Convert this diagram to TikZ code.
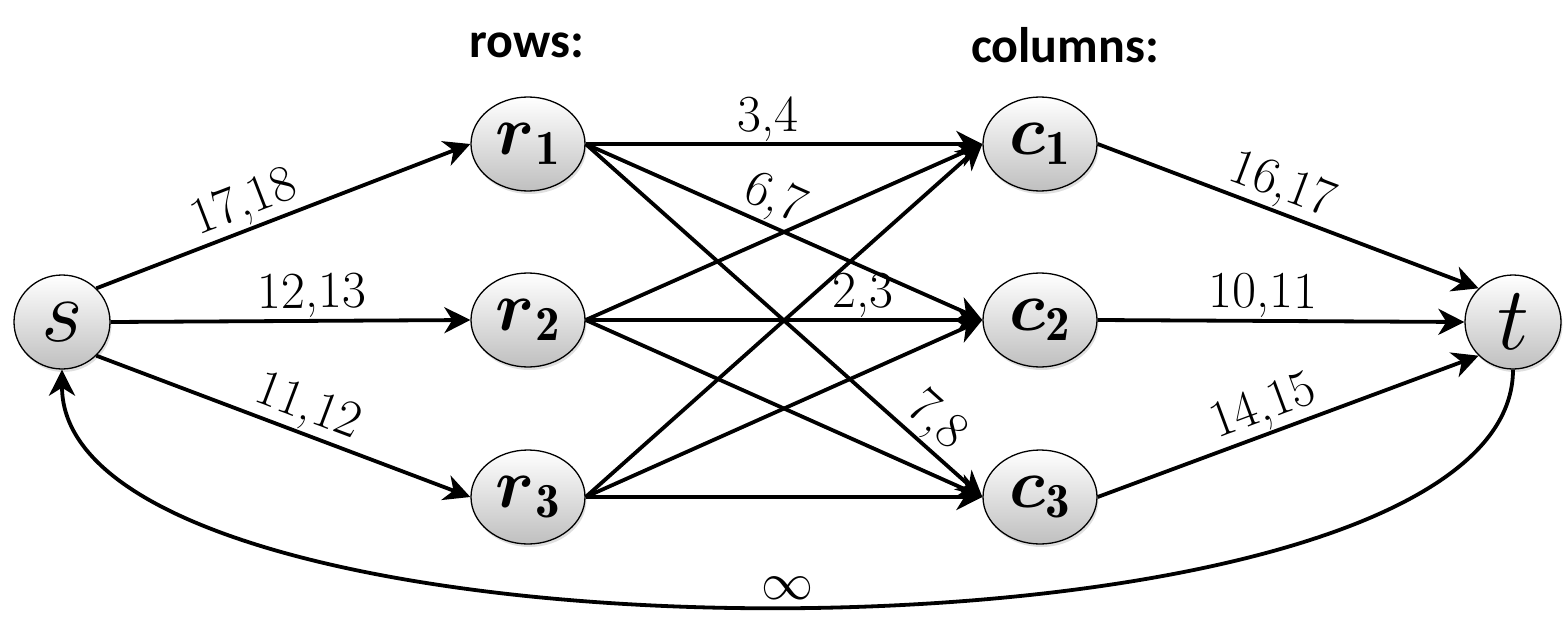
\RequirePackage{fix-cm}
\documentclass[tikz,border=0pt]{standalone}
\usepackage{amsmath}
\usepackage{fontspec}
\newfontfamily\hdrfont{Carlito}
\usetikzlibrary{arrows.meta,shapes.geometric,shadows}
\begin{document}
\begin{tikzpicture}[x=1pt,y=-1pt,
  vert/.style={ellipse, draw=black, line width=1.3pt, top color=white, bottom color=gray!50,
    drop shadow={shadow xshift=1.5pt,shadow yshift=-3pt,opacity=0.25}, inner sep=0pt},
  rc/.style={vert, minimum width=114pt, minimum height=94pt, font=\fontsize{70}{76}\selectfont},
  st/.style={vert, minimum width=96pt, minimum height=94pt, font=\fontsize{90}{96}\selectfont},
  edge/.style={line width=3.8pt, -{Stealth[length=26pt,width=26pt,inset=8pt]}},
  lbl/.style={font=\fontsize{52}{56}\selectfont, inner sep=1pt, above, sloped},
  hd/.style={font=\hdrfont\bfseries\fontsize{50}{56}\selectfont}]
\useasboundingbox (0,0) rectangle (1563,637);

\node[hd] (hr) at (527,45) {rows:};
\node[hd] (hc) at (1065,45) {columns:};

\node[st] (s) at (62,322) {$s$};
\node[rc] (r1) at (528,144) {$\boldsymbol{r}_{\mathbf{1}}$};
\node[rc] (r2) at (528,320) {$\boldsymbol{r}_{\mathbf{2}}$};
\node[rc] (r3) at (528,497) {$\boldsymbol{r}_{\mathbf{3}}$};
\node[rc] (c1) at (1040,144) {$\boldsymbol{c}_{\mathbf{1}}$};
\node[rc] (c2) at (1040,320) {$\boldsymbol{c}_{\mathbf{2}}$};
\node[rc] (c3) at (1040,497) {$\boldsymbol{c}_{\mathbf{3}}$};
\node[st] (t) at (1513,322) {$t$};

\draw[edge] (s.north east) -- node[lbl,pos=0.42] {17,18} (r1.west);
\draw[edge] (s.east) -- node[lbl,pos=0.56] {12,13} (r2.west);
\draw[edge] (s.south east) -- node[lbl,pos=0.54] {11,12} (r3.west);

\draw[edge] (r1.east) -- node[lbl,pos=0.46] {3,4} (c1.west);
\draw[edge] (r1.east) -- node[lbl,pos=0.45] {6,7} (c2.west);
\draw[edge] (r1.east) -- node[lbl,pos=0.84] {7,8} (c3.west);
\draw[edge] (r2.east) -- (c1.west);
\draw[edge] (r2.east) -- node[lbl,pos=0.70] {2,3} (c2.west);
\draw[edge] (r2.east) -- (c3.west);
\draw[edge] (r3.east) -- (c1.west);
\draw[edge] (r3.east) -- (c2.west);
\draw[edge] (r3.east) -- (c3.west);

\draw[edge] (c1.east) -- node[lbl,pos=0.46] {16,17} (t.north west);
\draw[edge] (c2.east) -- node[lbl,pos=0.45] {10,11} (t.west);
\draw[edge] (c3.east) -- node[lbl,pos=0.46] {14,15} (t.south west);

\draw[edge] (t.south) .. controls (1513,685) and (62,685) .. node[pos=0.5,above,inner sep=5pt,font=\fontsize{52}{56}\selectfont] {$\infty$} (s.south);
\end{tikzpicture}
\end{document}
